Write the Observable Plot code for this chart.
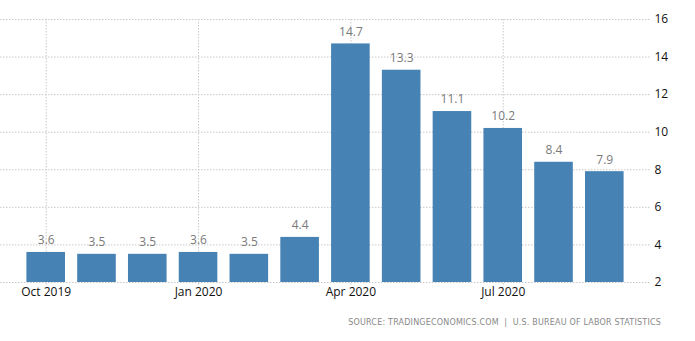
<!DOCTYPE html>
<html>
<head>
<meta charset="utf-8">
<script src="https://cdn.jsdelivr.net/npm/d3@7"></script>
<script src="https://cdn.jsdelivr.net/npm/@observablehq/plot@0.6"></script>
<style>
  html, body { margin: 0; padding: 0; background: #fff; }
  #chart { width: 695px; }
  .caption { font-family: "DejaVu Sans", sans-serif; font-size: 8px; color: #888; letter-spacing: 0.2px;
    text-align: right; width: 661px; margin-top: 18px; white-space: pre; }
</style>
</head>
<body>
<div id="chart"></div>
<script>
const months = ["Oct 2019","Nov 2019","Dec 2019","Jan 2020","Feb 2020","Mar 2020","Apr 2020","May 2020","Jun 2020","Jul 2020","Aug 2020","Sep 2020"];
const values = [3.6, 3.5, 3.5, 3.6, 3.5, 4.4, 14.7, 13.3, 11.1, 10.2, 8.4, 7.9];
const xTicks = ["Oct 2019","Jan 2020","Apr 2020","Jul 2020"];
const yTicks = [2, 4, 6, 8, 10, 12, 14, 16];
const sourceText = "SOURCE: TRADINGECONOMICS.COM  |  U.S. BUREAU OF LABOR STATISTICS";

const data = months.map((m, i) => ({month: m, value: values[i]}));
const font = "'Open Sans', 'DejaVu Sans', sans-serif";

const chart = Plot.plot({
  width: 695,
  height: 300,
  marginLeft: 0,
  marginRight: 45,
  marginTop: 19,
  marginBottom: 18,
  style: {fontFamily: font, fontSize: "12px", color: "#222", background: "#fff"},
  x: {domain: months, paddingInner: 0.24, paddingOuter: 0.52, align: 0.5, round: false, axis: null},
  y: {domain: [2, 16], axis: null},
  marks: [
    Plot.gridY(yTicks, {stroke: "#c8c8c8", strokeOpacity: 1, strokeDasharray: "1.5,1.5"}),
    Plot.ruleX(xTicks, {x: d => d, stroke: "#c8c8c8", strokeDasharray: "1.5,1.5", insetBottom: -4}),
    Plot.barY(data, {x: "month", y1: 2, y2: "value", fill: "#4682b4"}),
    Plot.text(data, {x: "month", y: "value", text: d => d.value.toFixed(1), dy: -12, fill: "#7a7a7a", fontSize: 12}),
    Plot.axisY(yTicks, {anchor: "right", tickSize: 0, tickPadding: 4, textAnchor: "start", fill: "#111", fontSize: 12, label: null}),
    Plot.axisX(xTicks, {anchor: "bottom", tickSize: 0, tickPadding: 5, fill: "#111", fontSize: 12, label: null})
  ]
});
document.getElementById("chart").appendChild(chart);
const cap = document.createElement("div");
cap.className = "caption";
cap.textContent = sourceText;
document.body.appendChild(cap);
</script>
</body>
</html>
